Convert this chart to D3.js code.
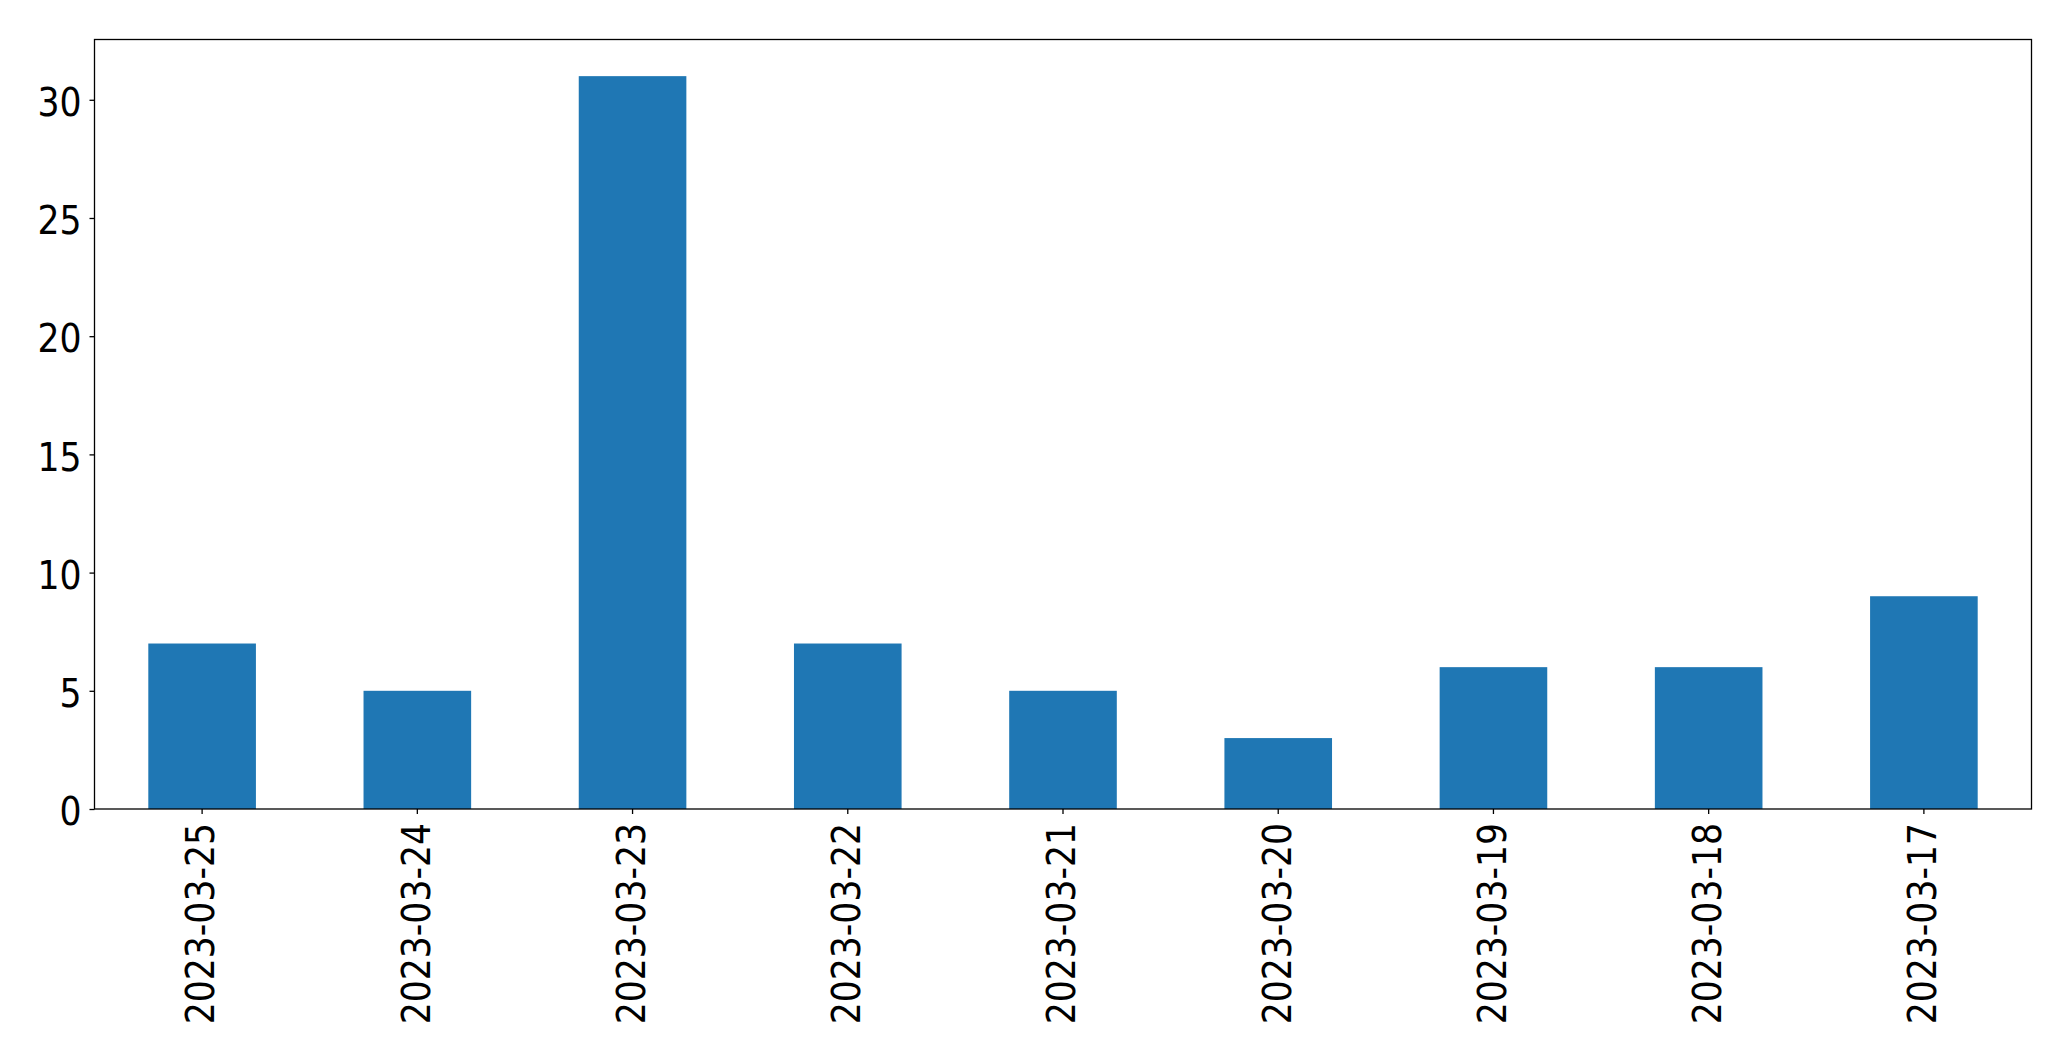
<!DOCTYPE html>
<html>
<head>
<meta charset="utf-8">
<script src="https://cdn.jsdelivr.net/npm/d3@7"></script>
<style>
  html, body { margin: 0; padding: 0; background: #ffffff; }
  svg { display: block; }
  text { font-family: "DejaVu Sans Condensed", "DejaVu Sans", sans-serif; font-stretch: condensed; fill: #000; }
</style>
</head>
<body>
<svg id="chart" width="2071" height="1061"></svg>
<script>
const categories = ["2023-03-25", "2023-03-24", "2023-03-23", "2023-03-22", "2023-03-21", "2023-03-20", "2023-03-19", "2023-03-18", "2023-03-17"];
const counts = [7, 5, 31, 7, 5, 3, 6, 6, 9];
const yTicks = [0, 5, 10, 15, 20, 25, 30];

const W = 2071, H = 1061;
const mLeft = 94.5, mRight = 2031.5, mTop = 39.5, mBottom = 809;
const yMax = d3.max(counts) * 1.05;
const FONT = "'DejaVu Sans Condensed', 'DejaVu Sans', sans-serif";
const FSIZE = "38.5px";

const svg = d3.select("#chart");

const x = d3.scaleBand()
  .domain(categories)
  .range([mLeft, mRight])
  .paddingInner(0.5)
  .paddingOuter(0.25);

const y = d3.scaleLinear()
  .domain([0, yMax])
  .range([mBottom, mTop]);

// bars
svg.append("g")
  .selectAll("rect")
  .data(categories.map((c, i) => ({ c, v: counts[i] })))
  .join("rect")
  .attr("x", d => x(d.c))
  .attr("width", x.bandwidth())
  .attr("y", d => y(d.v))
  .attr("height", d => y(0) - y(d.v))
  .attr("fill", "#1f77b4");

// y axis
const yAxis = d3.axisLeft(y)
  .tickValues(yTicks)
  .tickSize(5)
  .tickPadding(8)
  .tickFormat(d3.format("d"));
const gy = svg.append("g").attr("transform", `translate(${mLeft},0)`).call(yAxis);
gy.select(".domain").remove();
gy.selectAll(".tick line").attr("stroke", "#000").attr("stroke-width", 1.3);
gy.selectAll(".tick text")
  .attr("font-size", FSIZE)
  .attr("font-family", FONT)
  .attr("fill", "#000")
  .attr("dy", "0.41em");

// x axis
const xAxis = d3.axisBottom(x).tickSize(5).tickPadding(0);
const gx = svg.append("g").attr("transform", `translate(0,${mBottom})`).call(xAxis);
gx.select(".domain").remove();
gx.selectAll(".tick line").attr("stroke", "#000").attr("stroke-width", 1.3);
gx.selectAll(".tick text")
  .attr("font-size", FSIZE)
  .attr("font-family", FONT)
  .attr("fill", "#000")
  .attr("text-anchor", "end")
  .attr("transform", "rotate(-90)")
  .attr("x", -14)
  .attr("y", 0)
  .attr("dy", "0.32em");

// spines
svg.append("rect")
  .attr("x", mLeft)
  .attr("y", mTop)
  .attr("width", mRight - mLeft)
  .attr("height", mBottom - mTop)
  .attr("fill", "none")
  .attr("stroke", "#000")
  .attr("stroke-width", 1.3);
</script>
</body>
</html>
